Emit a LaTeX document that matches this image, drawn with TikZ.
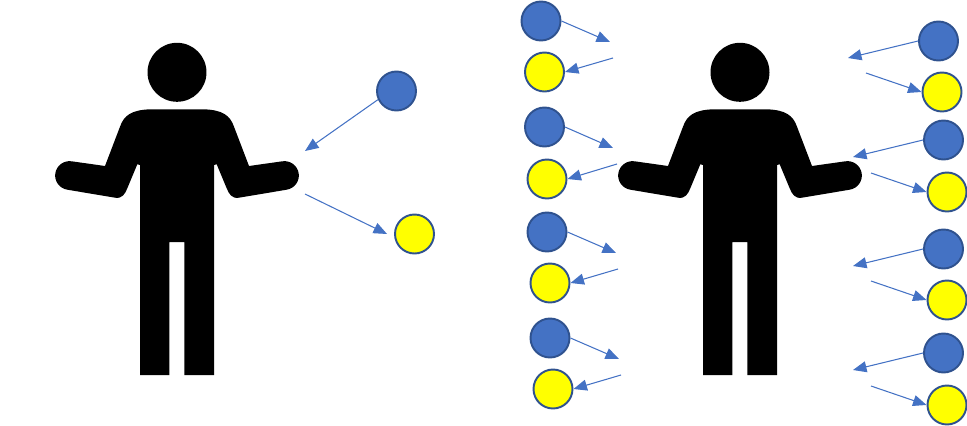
\documentclass[tikz,border=0pt]{standalone}
\usepackage{tikz}
\usetikzlibrary{arrows.meta}

\definecolor{ballblue}{HTML}{4472C4}
\definecolor{balledge}{HTML}{2F528F}
\definecolor{ballyellow}{HTML}{FFFF00}

\tikzset{
	blueball/.style={circle,draw=balledge,fill=ballblue,line width=1.1pt,minimum size=0.78cm,inner sep=0pt},
	yellowball/.style={circle,draw=balledge,fill=ballyellow,line width=1.1pt,minimum size=0.78cm,inner sep=0pt},
	toss/.style={draw=ballblue,line width=0.6pt,-{Triangle[length=0.27cm,width=0.22cm]}},
	pics/shrugger/.style={code={
		% head
		\fill[black] (0,72.3) circle (0.59cm);
		% body with arms and legs
		\fill[black] (-27,109.3) -- (27,109.3)
			.. controls (45,110) and (53,115) .. (57,126.7)
			-- (72,166) -- (105.3,161.3)
			.. controls (113.1,160.1) and (120.5,165.5) .. (121.7,173.3)
			.. controls (122.9,181.1) and (117.5,188.5) .. (109.7,189.7)
			-- (62,197.7)
			.. controls (55,199) and (52,194) .. (49.7,188.3)
			-- (39.7,164.3) -- (37,165) -- (37,375) -- (7.3,375) -- (7.3,242)
			-- (-7.7,242) -- (-7.7,375) -- (-37,375) -- (-37,165) -- (-39.7,164.3)
			-- (-49.7,188.3)
			.. controls (-52,194) and (-55,199) .. (-62,197.7)
			-- (-109.7,189.7)
			.. controls (-117.5,188.5) and (-122.9,181.1) .. (-121.7,173.3)
			.. controls (-120.5,165.5) and (-113.1,160.1) .. (-105.3,161.3)
			-- (-72,166) -- (-57,126.7)
			.. controls (-53,115) and (-45,110) .. (-27,109.3) -- cycle;
	}}
}

\begin{document}
\begin{tikzpicture}[x=0.02cm,y=-0.02cm]
	\useasboundingbox (0,0) rectangle (967,426);

	% people
	\pic at (177,0) {shrugger};
	\pic at (740,0) {shrugger};

	% single pair
	\node[blueball] (blueSingle) at (396.5,91) {};
	\node[yellowball] (yellowSingle) at (414.5,234) {};
	\coordinate (inSingle) at (305,151);
	\coordinate (outSingle) at (305,194);
	\draw[toss] (blueSingle.205) -- (inSingle);
	\draw[toss] (outSingle) -- ([xshift=-0.14cm]yellowSingle.west);

	% left column
	\node[blueball] (blueA) at (541,21) {};
	\node[yellowball] (yellowA) at (544.5,72) {};
	\node[blueball] (blueB) at (544.5,127) {};
	\node[yellowball] (yellowB) at (547,179) {};
	\node[blueball] (blueC) at (547,232) {};
	\node[yellowball] (yellowC) at (550,283) {};
	\node[blueball] (blueD) at (550,338) {};
	\node[yellowball] (yellowD) at (553,389) {};
	\coordinate (inA) at (610,42);
	\coordinate (outA) at (613,58);
	\coordinate (inB) at (613,148);
	\coordinate (outB) at (617,164);
	\coordinate (inC) at (616,253);
	\coordinate (outC) at (618,269);
	\coordinate (inD) at (619,359);
	\coordinate (outD) at (621,375);
	\draw[toss] (blueA.east) -- (inA);
	\draw[toss] (outA) -- (yellowA.east);
	\draw[toss] (blueB.east) -- (inB);
	\draw[toss] (outB) -- (yellowB.east);
	\draw[toss] (blueC.east) -- (inC);
	\draw[toss] (outC) -- (yellowC.east);
	\draw[toss] (blueD.east) -- (inD);
	\draw[toss] (outD) -- (yellowD.east);

	% right column
	\node[blueball] (blueE) at (938.5,41) {};
	\node[yellowball] (yellowE) at (942,92) {};
	\node[blueball] (blueF) at (943.5,140) {};
	\node[yellowball] (yellowF) at (947,192) {};
	\node[blueball] (blueG) at (943.5,249) {};
	\node[yellowball] (yellowG) at (947,300) {};
	\node[blueball] (blueH) at (943.5,353) {};
	\node[yellowball] (yellowH) at (947,405) {};
	\coordinate (inE) at (848,58);
	\coordinate (outE) at (866,73);
	\coordinate (inF) at (853,157);
	\coordinate (outF) at (871,173);
	\coordinate (inG) at (853,266);
	\coordinate (outG) at (871,281);
	\coordinate (inH) at (853,370);
	\coordinate (outH) at (871,386);
	\draw[toss] (blueE.west) -- (inE);
	\draw[toss] (outE) -- (yellowE.west);
	\draw[toss] (blueF.west) -- (inF);
	\draw[toss] (outF) -- (yellowF.west);
	\draw[toss] (blueG.west) -- (inG);
	\draw[toss] (outG) -- (yellowG.west);
	\draw[toss] (blueH.west) -- (inH);
	\draw[toss] (outH) -- (yellowH.west);
\end{tikzpicture}
\end{document}
